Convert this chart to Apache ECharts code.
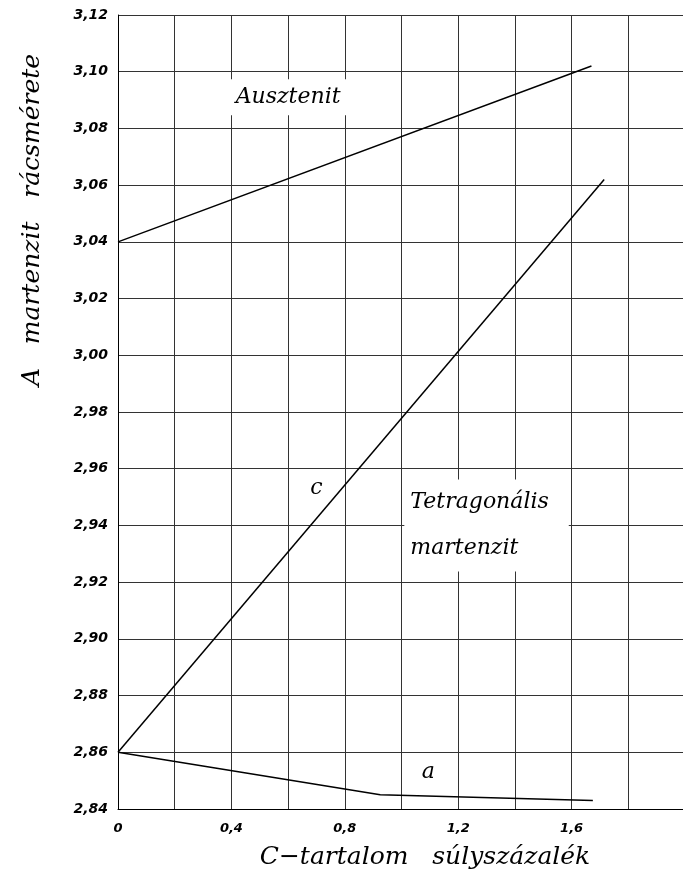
<!DOCTYPE html>
<html>
<head>
<meta charset="utf-8">
<script src="https://cdn.jsdelivr.net/npm/echarts@6/dist/echarts.min.js"></script>
<style>
html,body{margin:0;padding:0;background:#fff;}
#chart{width:683px;height:870px;}
</style>
</head>
<body>
<div id="chart"></div>
<script>
// Data
var xTicks = [0, 0.4, 0.8, 1.2, 1.6];
var austenite = [[0, 3.040], [1.67, 3.102]];
var cAxis = [[0, 2.860], [1.715, 3.062]];
var aAxis = [[0, 2.860], [0.925, 2.845], [1.675, 2.843]];
var annotations = [
  {name: 'Ausztenit', value: [0.60, 3.091]},
  {name: 'c', value: [0.70, 2.953]},
  {name: 'a', value: [1.095, 2.853]}
];
var tetraLabel = {name: 'Tetragonális\nmartenzit', value: [1.01, 2.940]};
var xTitle = 'C\u2212tartalom   súlyszázalék';
var yTitle = 'A   martenzit   rácsmérete';

var serif = 'DejaVu Serif';
var chart = echarts.init(document.getElementById('chart'), null, {renderer: 'canvas'});

function fmtX(v) {
  var r = Math.round(v * 10) / 10;
  for (var i = 0; i < xTicks.length; i++) {
    if (Math.abs(xTicks[i] - r) < 1e-6) return r === 0 ? '0' : r.toFixed(1).replace('.', ',');
  }
  return '';
}

var lineStyle = {color: '#000', width: 1.5};

chart.setOption({
  animation: false,
  backgroundColor: '#fff',
  grid: {left: 118, top: 15, width: 567, bottom: 61, containLabel: false, outerBoundsMode: 'none'},
  xAxis: {
    type: 'value', min: 0, max: 2.0, interval: 0.2,
    axisLine: {show: true, onZero: false, lineStyle: {color: '#000', width: 1}},
    axisTick: {show: false},
    splitLine: {show: true, lineStyle: {color: '#333', width: 1}},
    axisLabel: {
      formatter: fmtX, margin: 13,
      fontFamily: 'DejaVu Sans', fontWeight: 'bold', fontStyle: 'italic', fontSize: 13, color: '#000'
    }
  },
  yAxis: {
    type: 'value', min: 2.84, max: 3.12, interval: 0.02,
    axisLine: {show: true, onZero: false, lineStyle: {color: '#000', width: 1}},
    axisTick: {show: false},
    splitLine: {show: true, lineStyle: {color: '#333', width: 1}},
    axisLabel: {
      formatter: function (v) { return v.toFixed(2).replace('.', ','); },
      margin: 10,
      fontFamily: 'DejaVu Sans', fontWeight: 'bold', fontStyle: 'italic', fontSize: 14, color: '#000'
    }
  },
  series: [
    {type: 'line', data: austenite, symbol: 'none', lineStyle: lineStyle, z: 3},
    {type: 'line', data: cAxis, symbol: 'none', lineStyle: lineStyle, z: 3},
    {type: 'line', data: aAxis, symbol: 'none', lineStyle: lineStyle, z: 3},
    {
      type: 'scatter', symbolSize: 0, z: 2, silent: true,
      itemStyle: {opacity: 1, color: '#fff'},
      data: annotations,
      label: {
        show: true, position: 'inside', formatter: '{b}',
        fontFamily: serif, fontStyle: 'italic', fontSize: 22, color: '#000',
        textBorderWidth: 0, opacity: 1,
        backgroundColor: '#fff', padding: [7, 12]
      }
    },
    {
      type: 'scatter', symbolSize: 0, z: 2, silent: true,
      itemStyle: {opacity: 1, color: '#fff'},
      data: [tetraLabel],
      label: {
        show: true, position: 'right', distance: 0, formatter: '{b}',
        fontFamily: serif, fontStyle: 'italic', fontSize: 22, lineHeight: 46, color: '#000',
        textBorderWidth: 0, opacity: 1,
        backgroundColor: '#fff', padding: [0, 20, 0, 6]
      }
    }
  ],
  graphic: [
    {
      type: 'text', x: 425, y: 857, z: 10,
      style: {text: xTitle, x: 0, y: 0, align: 'center', verticalAlign: 'middle',
        font: 'italic 25px "DejaVu Serif"', fill: '#000'}
    },
    {
      type: 'text', x: 32, y: 220, rotation: Math.PI / 2, z: 10,
      style: {text: yTitle, x: 0, y: 0, align: 'center', verticalAlign: 'middle',
        font: 'italic 25px "DejaVu Serif"', fill: '#000'}
    }
  ]
});
</script>
</body>
</html>
